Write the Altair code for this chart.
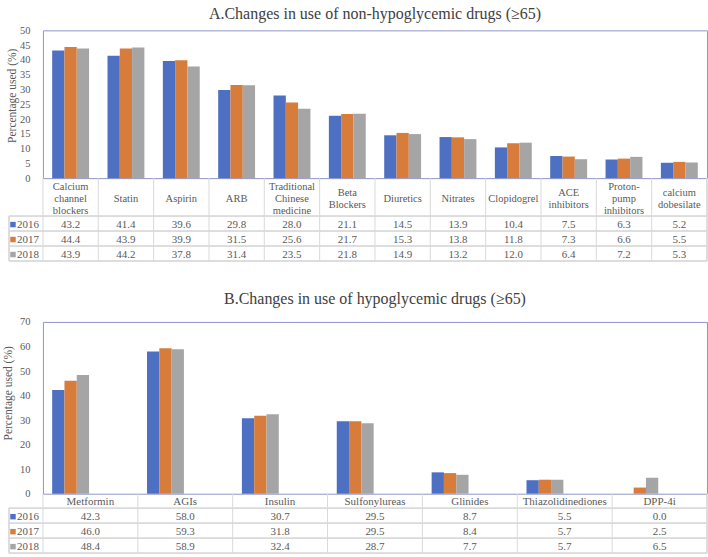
import altair as alt
import pandas as pd

# ---- data ---------------------------------------------------------------
years = ["2016", "2017", "2018"]
year_colors = ["#4E70C2", "#D77C3A", "#A5A5A5"]

drugs_a = ["Calcium channel blockers", "Statin", "Aspirin", "ARB",
           "Traditional Chinese medicine", "Beta Blockers", "Diuretics",
           "Nitrates", "Clopidogrel", "ACE inhibitors",
           "Proton-pump inhibitors", "calcium dobesilate"]
labels_a = ["Calcium\nchannel\nblockers", "Statin", "Aspirin", "ARB",
            "Traditional\nChinese\nmedicine", "Beta\nBlockers", "Diuretics",
            "Nitrates", "Clopidogrel", "ACE\ninhibitors",
            "Proton-\npump\ninhibitors", "calcium\ndobesilate"]
a_2016 = [43.2, 41.4, 39.6, 29.8, 28.0, 21.1, 14.5, 13.9, 10.4, 7.5, 6.3, 5.2]
a_2017 = [44.4, 43.9, 39.9, 31.5, 25.6, 21.7, 15.3, 13.8, 11.8, 7.3, 6.6, 5.5]
a_2018 = [43.9, 44.2, 37.8, 31.4, 23.5, 21.8, 14.9, 13.2, 12.0, 6.4, 7.2, 5.3]

drugs_b = ["Metformin", "AGIs", "Insulin", "Sulfonylureas", "Glinides",
           "Thiazolidinediones", "DPP-4i"]
b_2016 = [42.3, 58.0, 30.7, 29.5, 8.7, 5.5, 0.0]
b_2017 = [46.0, 59.3, 31.8, 29.5, 8.4, 5.7, 2.5]
b_2018 = [48.4, 58.9, 32.4, 28.7, 7.7, 5.7, 6.5]

# ---- style --------------------------------------------------------------
FONT = "Liberation Serif"
TEXT = "#595959"
TITLE = "#404040"
GRID = "#d9d9d9"
FRAME = "#8e96c8"
W = 665
LEGEND_X = -34
LINE_H = 12


def long_form(drugs, series):
    rows = []
    for year, vals in zip(years, series):
        for d, v in zip(drugs, vals):
            rows.append({"Drug": d, "Year": year, "Value": v})
    return pd.DataFrame(rows)


def panel(title, drugs, labels, series, ymax, ystep, height, header_h,
          row_h, header_size, title_pad, title_y, title_offset):
    df = long_form(drugs, series)
    heads = pd.DataFrame({"Drug": drugs, "Label": labels,
                          "Lines": [lab.count("\n") + 1 for lab in labels]})
    legend_df = pd.DataFrame({"Year": years})

    table_top = height + header_h
    table_bottom = table_top + 3 * row_h

    x_band = alt.X("Drug:N", sort=drugs,
                   scale=alt.Scale(paddingInner=0, paddingOuter=0), axis=None)
    color = alt.Color("Year:N", scale=alt.Scale(domain=years, range=year_colors),
                      legend=None)
    row_y = alt.Y("Year:N", sort=years,
                  scale=alt.Scale(domain=years,
                                  range=[table_top + row_h / 2 + 1,
                                         table_bottom - row_h / 2 + 1],
                                  padding=0),
                  axis=None)

    bars = alt.Chart(df).mark_bar().encode(
        x=x_band,
        xOffset=alt.XOffset("Year:N", sort=years,
                            scale=alt.Scale(paddingInner=0, paddingOuter=0.75)),
        y=alt.Y("Value:Q",
                scale=alt.Scale(domain=[0, ymax], nice=False),
                axis=alt.Axis(values=list(range(0, ymax + 1, ystep)),
                              title="Percentage used (%)", grid=False,
                              domain=False, ticks=False, labelPadding=13,
                              labelFont=FONT, labelFontSize=10.5,
                              labelColor=TEXT, titleFont=FONT,
                              titleFontSize=11.5, titleFontWeight="normal",
                              titleColor=TEXT, titlePadding=title_pad,
                              titleY=title_y)),
        color=color,
    )

    # table grid lines
    grid_layers = []
    for k in range(4):
        grid_layers.append(
            alt.Chart(legend_df).mark_rule(color=GRID, strokeWidth=1).encode(
                x=alt.value(LEGEND_X), x2=alt.value(W),
                y=alt.value(table_top + k * row_h)))
    grid_layers.append(
        alt.Chart(heads).mark_rule(color=GRID, strokeWidth=1).encode(
            x=alt.X("Drug:N", sort=drugs, bandPosition=0,
                    scale=alt.Scale(paddingInner=0, paddingOuter=0), axis=None),
            y=alt.value(height), y2=alt.value(table_bottom)))
    grid_layers.append(
        alt.Chart(legend_df).mark_rule(color=GRID, strokeWidth=1).encode(
            x=alt.value(W), y=alt.value(height), y2=alt.value(table_bottom)))
    grid_layers.append(
        alt.Chart(legend_df).mark_rule(color=GRID, strokeWidth=1).encode(
            x=alt.value(LEGEND_X), y=alt.value(table_top),
            y2=alt.value(table_bottom)))

    # column headings, centred vertically in the heading row
    header_layers = []
    for n in sorted(set(heads["Lines"])):
        header_layers.append(
            alt.Chart(heads).transform_filter(alt.datum.Lines == n).mark_text(
                font=FONT, fontSize=header_size, color=TEXT, lineBreak="\n",
                lineHeight=LINE_H, baseline="middle", align="center").encode(
                x=x_band,
                y=alt.value(height + header_h / 2 + 1.5 - (n - 1) * LINE_H / 2),
                text="Label:N"))

    cells = alt.Chart(df).mark_text(
        font=FONT, fontSize=11, color=TEXT, baseline="middle",
        align="center").encode(
        x=x_band, y=row_y, text=alt.Text("Value:Q", format=".1f"))

    keys = alt.Chart(legend_df).mark_square(size=30, opacity=1).encode(
        x=alt.value(LEGEND_X + 4), y=row_y, color=color)
    key_text = alt.Chart(legend_df).mark_text(
        font=FONT, fontSize=11, color=TEXT, baseline="middle",
        align="left").encode(
        x=alt.value(LEGEND_X + 8), y=row_y, text="Year:N")

    return alt.layer(bars, *grid_layers, *header_layers, cells, keys,
                     key_text).resolve_scale(y="independent").properties(
        width=W, height=height,
        title=alt.TitleParams(title, font=FONT, fontSize=16,
                              fontWeight="normal", color=TITLE,
                              anchor="middle", frame="group",
                              offset=title_offset),
    )


panel_a = panel("A.Changes in use of  non-hypoglycemic drugs (\u226565)",
                drugs_a, labels_a, [a_2016, a_2017, a_2018],
                50, 5, 148, 38, 15, 10.5, 2, 65, 3)
panel_b = panel("B.Changes in use of  hypoglycemic drugs (\u226565)",
                drugs_b, drugs_b, [b_2016, b_2017, b_2018],
                70, 10, 172, 14.5, 15, 11, 6, 71, 10)

chart = alt.vconcat(panel_a, panel_b, spacing=28).properties(
    padding={"left": 2, "top": 5, "right": 0, "bottom": 0}
).configure_view(stroke=FRAME, strokeWidth=1)

chart.save("out.html", embed_options={"renderer": "svg", "actions": False})
